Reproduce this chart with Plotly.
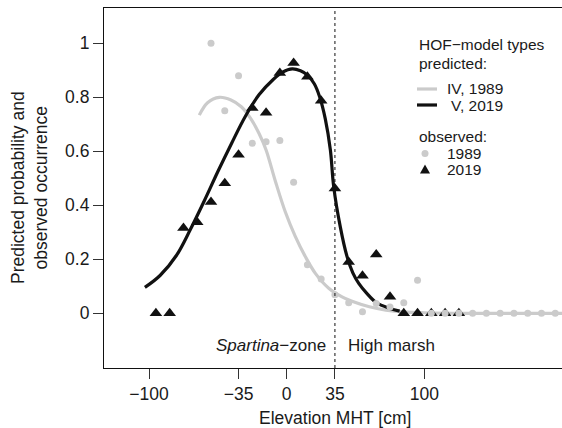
import plotly.graph_objects as go

# ---------------- data ----------------
elev_1989 = [-55, -45, -35, -25, -15, -5, 5, 15, 25, 35, 45, 55, 65, 75, 85, 95,
             105, 115, 125, 135, 145, 155, 165, 175, 185, 195]
obs_1989 = [1.0, 0.75, 0.88, 0.63, 0.635, 0.64, 0.485, 0.18, 0.127, 0.069, 0.039, 0.006,
            0.036, 0.023, 0.039, 0.122, 0, 0, 0, 0, 0, 0, 0, 0, 0, 0]

elev_2019 = [-95, -85, -75, -65, -55, -45, -35, -25, -15, -5, 5, 15, 25, 35, 45, 55,
             65, 75, 85, 95, 105, 115, 125]
obs_2019 = [0, 0, 0.316, 0.337, 0.412, 0.482, 0.587, 0.76, 0.743, 0.89, 0.927, 0.876,
            0.787, 0.462, 0.19, 0.139, 0.218, 0.061, 0, 0, 0, 0, 0]

# fitted HOF curves
fit_x_1989 = [-63.5, -57.5, -49, -40.5, -33, -26, -20, -15, -8.3, -1, 6.2, 13.5, 20.8,
              30.5, 40.2, 50, 60, 72, 85, 100, 130, 205]
fit_y_1989 = [0.734, 0.78, 0.80, 0.79, 0.765, 0.72, 0.665, 0.605, 0.49, 0.375, 0.285,
              0.21, 0.148, 0.093, 0.061, 0.04, 0.024, 0.012, 0.005, 0.002, 0.0, 0.0]

fit_x_2019 = [-103, -92, -80, -70, -60, -50, -40, -30, -20, -10, -3, 4, 10, 15, 20, 24,
              28, 31.7, 34.1, 38.9, 43.8, 48, 52.3, 58, 65, 75, 82]
fit_y_2019 = [0.096, 0.14, 0.215, 0.31, 0.415, 0.525, 0.63, 0.73, 0.81, 0.865, 0.893,
              0.905, 0.898, 0.882, 0.85, 0.80, 0.72, 0.605, 0.469, 0.32, 0.21, 0.15,
              0.111, 0.075, 0.04, 0.018, 0.008]

x_ticks = [-100, -35, 0, 35, 100]
x_tick_text = ["\u2212100", "\u221235", "0", "35", "100"]
y_ticks = [0, 0.2, 0.4, 0.6, 0.8, 1]
y_tick_text = ["0", "0.2", "0.4", "0.6", "0.8", "1"]
zone_border = 35

GREY = "#cbcbcb"
BLACK = "#111111"
FONT = "Liberation Sans, Arial, sans-serif"

# ---------------- geometry helpers (pixel -> paper) ----------------
W, H = 562, 428
ML, MR, MT, MB = 104, 0, 8, 60
PW, PH = W - ML - MR, H - MT - MB


def px(xp):
    return (xp - ML) / PW


def py(yp):
    return (H - MB - yp) / PH


fig = go.Figure()

fig.add_trace(go.Scatter(x=fit_x_1989, y=fit_y_1989, mode="lines",
                         line=dict(color=GREY, width=3.2, shape="spline", smoothing=1),
                         hoverinfo="skip", showlegend=False))
fig.add_trace(go.Scatter(x=fit_x_2019, y=fit_y_2019, mode="lines",
                         line=dict(color=BLACK, width=3.2, shape="spline", smoothing=1),
                         hoverinfo="skip", showlegend=False))
fig.add_trace(go.Scatter(x=elev_2019, y=obs_2019, mode="markers",
                         marker=dict(symbol="triangle-up", size=11, color=BLACK),
                         showlegend=False))
fig.add_trace(go.Scatter(x=elev_1989, y=obs_1989, mode="markers",
                         marker=dict(symbol="circle", size=7, color=GREY),
                         showlegend=False))

# zone border
fig.add_shape(type="line", xref="x", yref="paper", x0=zone_border, x1=zone_border,
              y0=0, y1=1, line=dict(color=BLACK, width=1, dash="dot"))

# zone labels
fig.add_annotation(x=px(328), y=py(345), xref="paper", yref="paper",
                   text="<i>Spartina</i>\u2212zone", showarrow=False,
                   xanchor="right", yanchor="middle", font=dict(size=17, color="#1a1a1a"))
fig.add_annotation(x=px(346), y=py(345), xref="paper", yref="paper",
                   text="High marsh", showarrow=False,
                   xanchor="left", yanchor="middle", font=dict(size=17, color="#1a1a1a"))

# axis titles
fig.add_annotation(x=px(335), y=py(418), xref="paper", yref="paper",
                   text="Elevation MHT [cm]", showarrow=False,
                   xanchor="center", yanchor="middle", font=dict(size=17.5, color="#1a1a1a"))
fig.add_annotation(x=px(29), y=py(188), xref="paper", yref="paper",
                   text="Predicted probability and<br>observed occurrence", showarrow=False,
                   textangle=-90, xanchor="center", yanchor="middle",
                   font=dict(size=17.5, color="#1a1a1a"))

# custom legend
LF = dict(size=15.5, color="#1a1a1a")
leg_items = [
    ("HOF\u2212model types", 417, 45),
    ("predicted:", 417, 63),
    ("IV, 1989", 445, 89),
    ("V, 2019", 449, 105),
    ("observed:", 417, 137),
    ("1989", 445, 153.5),
    ("2019", 445, 169.5),
]
for txt, xp_, yp_ in leg_items:
    fig.add_annotation(x=px(xp_), y=py(yp_), xref="paper", yref="paper", text=txt,
                       showarrow=False, xanchor="left", yanchor="middle", font=LF)
fig.add_shape(type="line", xref="paper", yref="paper", x0=px(417), x1=px(437),
              y0=py(89), y1=py(89), line=dict(color=GREY, width=3.2))
fig.add_shape(type="line", xref="paper", yref="paper", x0=px(417), x1=px(437),
              y0=py(105), y1=py(105), line=dict(color=BLACK, width=3.2))
fig.add_shape(type="circle", xref="paper", yref="paper", x0=px(421.5), x1=px(428.5),
              y0=py(157), y1=py(150), line=dict(width=0), fillcolor=GREY)
fig.add_shape(type="path", xref="paper", yref="paper",
              path=f"M {px(420)} {py(173.5)} L {px(430)} {py(173.5)} L {px(425)} {py(164.5)} Z",
              line=dict(width=0), fillcolor=BLACK)

fig.update_layout(
    width=W, height=H,
    margin=dict(l=ML, r=MR, t=MT, b=MB),
    plot_bgcolor="white", paper_bgcolor="white",
    font=dict(family=FONT, size=17, color="#1a1a1a"),
    showlegend=False,
    xaxis=dict(range=[-132.7, 199.9], tickvals=x_ticks, ticktext=x_tick_text,
               showgrid=False, zeroline=False, showline=True, linecolor=BLACK,
               linewidth=1.2, mirror=True, ticks="outside", ticklen=10, tickwidth=1.2,
               tickcolor="#333333", tickfont=dict(size=17.5)),
    yaxis=dict(range=[-0.2026, 1.1307], tickvals=y_ticks, ticktext=y_tick_text,
               showgrid=False, zeroline=False, showline=True, linecolor=BLACK,
               linewidth=1.2, ticks="outside", ticklen=10, tickwidth=1.2,
               tickcolor="#333333", tickfont=dict(size=17.5)),
)

fig.write_html("out.html", config={"displayModeBar": False},
               post_script="document.body.style.margin='0';document.body.style.overflow='hidden';")
